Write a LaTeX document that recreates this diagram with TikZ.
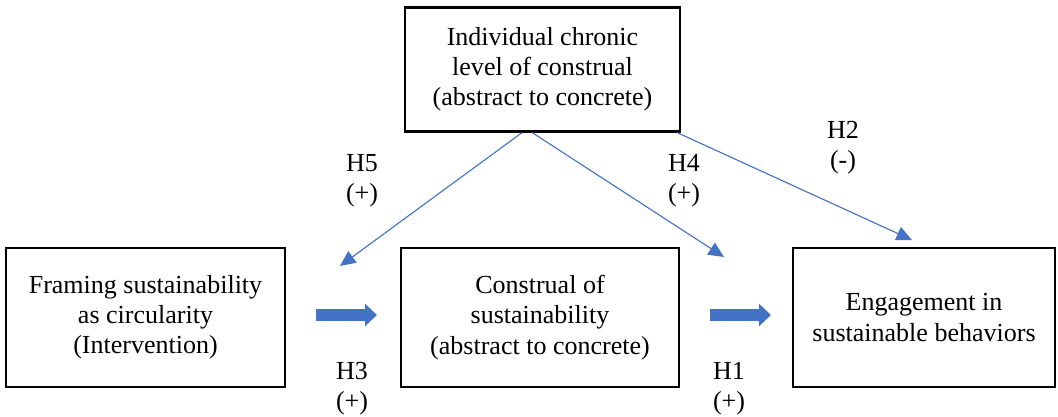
\documentclass[tikz,border=0pt]{standalone}
\usepackage{fontspec}
\setmainfont{Liberation Serif}
\usetikzlibrary{arrows.meta,positioning}
\definecolor{linkblue}{HTML}{4472C4}

\begin{document}
\begin{tikzpicture}[x=0.025cm, y=-0.025cm,
    font=\fontsize{18.5}{21.5}\selectfont,
    box/.style={draw, line width=1.5pt, fill=white, align=center,
                minimum width=#1, minimum height=3.475cm},
    thin/.style={-{Triangle[length=11pt,width=10pt]}, linkblue, line width=0.8pt},
    fat/.style={-{Triangle[length=8.5pt,width=15.5pt]}, linkblue, line width=9.2pt},
    hyp/.style={align=center}]

  \useasboundingbox (0,0) rectangle (1058,416);

  %% ── Moderator on top ─────────────────────────────────────
  \node[box=6.875cm, minimum height=3.1cm] (chronic) at (542.5,69.5)
    {Individual chronic\\level of construal\\(abstract to concrete)};

  %% ── Main path ────────────────────────────────────────────
  \node[box=6.975cm] (framing)   at (145.5,317.5)
    {Framing sustainability\\as circularity\\(Intervention)};
  \node[box=6.95cm]  (construal) at (540,317.5)
    {Construal of\\sustainability\\(abstract to concrete)};
  \node[box=6.55cm]  (engage)    at (924,317.5)
    {Engagement in\\sustainable behaviors};

  %% Free ends of the arrows
  \coordinate (h5tip) at (340,266);
  \coordinate (h4tip) at (724,257);
  \coordinate (h2tip) at (912,240);
  \coordinate (h3a) at (316,315);
  \coordinate (h3b) at (377,315);
  \coordinate (h1a) at (710,315);
  \coordinate (h1b) at (771,315);

  %% Moderating links
  \draw[thin] ([xshift=-0.51cm]chronic.south) -- (h5tip);
  \draw[thin] ([xshift=-0.26cm]chronic.south) -- (h4tip);
  \draw[thin] ([xshift=-0.1cm]chronic.south east) -- (h2tip);

  %% Direct effects
  \draw[fat] (h3a) -- (h3b);
  \draw[fat] (h1a) -- (h1b);

  %% Hypothesis labels
  \node[hyp] (h5) at (362,181) {H5\\(+)};
  \node[hyp] (h4) at (684,181) {H4\\(+)};
  \node[hyp] (h2) at (843,148) {H2\\(-)};
  \node[hyp] (h3) at (352,389) {H3\\(+)};
  \node[hyp] (h1) at (729,389) {H1\\(+)};

\end{tikzpicture}
\end{document}
